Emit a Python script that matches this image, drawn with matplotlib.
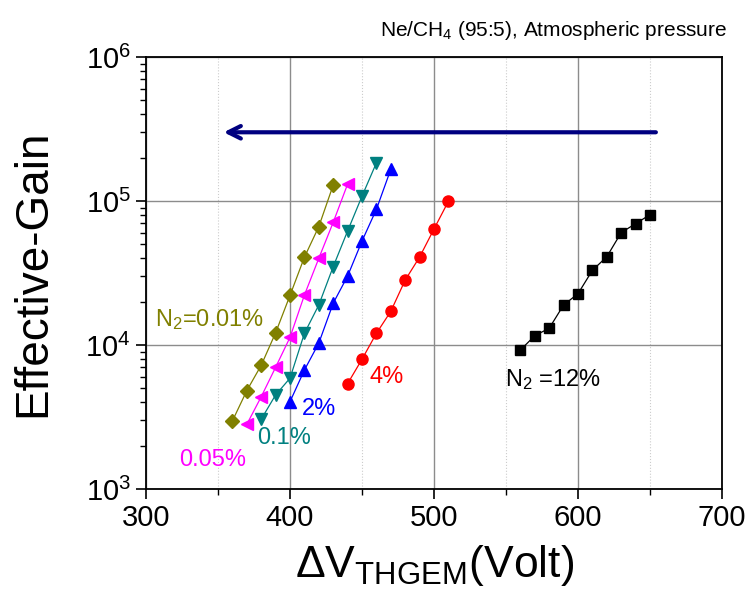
import matplotlib
matplotlib.use("Agg")
import matplotlib.pyplot as plt
from matplotlib.ticker import MultipleLocator, LogLocator, LogFormatterMathtext, NullFormatter

plt.rcParams['font.family'] = ['Liberation Sans', 'DejaVu Sans']
plt.rcParams['mathtext.fontset'] = 'custom'
plt.rcParams['mathtext.rm'] = 'Liberation Sans'
plt.rcParams['mathtext.it'] = 'Liberation Sans:italic'
plt.rcParams['mathtext.default'] = 'regular'

# N2 = 0.01 %
v_001 = [360, 370, 380, 390, 400, 410, 420, 430]
g_001 = [2970, 4820, 7230, 12150, 22100, 40700, 66400, 129000]
# N2 = 0.05 %
v_005 = [370, 380, 390, 400, 410, 420, 430, 440]
g_005 = [2810, 4370, 7000, 11300, 22200, 40000, 71100, 131000]
# N2 = 0.1 %
v_01 = [380, 390, 400, 410, 420, 430, 440, 450, 460]
g_01 = [3050, 4500, 5880, 12050, 18960, 35000, 61900, 108000, 184000]
# N2 = 2 %
v_2 = [400, 410, 420, 430, 440, 450, 460, 470]
g_2 = [4040, 6700, 10300, 19500, 30100, 52700, 87500, 166000]
# N2 = 4 %
v_4 = [440, 450, 460, 470, 480, 490, 500, 510]
g_4 = [5390, 7960, 12050, 17130, 28250, 40800, 63900, 99500]
# N2 = 12 %
v_12 = [560, 570, 580, 590, 600, 610, 620, 630, 640, 650]
g_12 = [9230, 11600, 13070, 18960, 22700, 33000, 41000, 60300, 69600, 80300]

fig = plt.figure(figsize=(7.55, 6.16), dpi=100)
ax = fig.add_axes([0.1934, 0.2062, 0.7629, 0.7013])

ax.plot(v_001, g_001, '-D', color='#808000', lw=0.9, ms=7, zorder=3)
ax.plot(v_005, g_005, '-<', color='#FF00FF', lw=0.9, ms=8.5, zorder=3)
ax.plot(v_01, g_01, '-v', color='#008080', lw=0.9, ms=8.5, zorder=3)
ax.plot(v_2, g_2, '-^', color='#0000FF', lw=0.9, ms=8.5, zorder=3)
ax.plot(v_4, g_4, '-o', color='#FF0000', lw=0.9, ms=8, zorder=3)
ax.plot(v_12, g_12, '-s', color='black', lw=0.9, ms=6.5, zorder=3)

ax.set_yscale('log')
ax.set_xlim(300, 700)
ax.set_ylim(1e3, 1e6)

ax.xaxis.set_major_locator(MultipleLocator(100))
ax.xaxis.set_minor_locator(MultipleLocator(50))
ax.yaxis.set_major_locator(LogLocator(base=10))
ax.yaxis.set_major_formatter(LogFormatterMathtext())
ax.yaxis.set_minor_locator(LogLocator(base=10, subs=range(2, 10)))
ax.yaxis.set_minor_formatter(NullFormatter())

ax.grid(True, which='major', color='#8c8c8c', lw=1.0, ls='-')
ax.grid(True, which='minor', axis='x', color='#cccccc', lw=0.8, ls=':')
ax.set_axisbelow(True)

ax.tick_params(which='major', direction='out', length=7, width=1.2, labelsize=21, pad=4)
ax.tick_params(which='minor', direction='out', length=4, width=1.0)
for s in ax.spines.values():
    s.set_linewidth(1.3)

ax.set_ylabel('Effective-Gain', fontsize=33, labelpad=22)
ax.set_xlabel('ΔV$_{THGEM}$(Volt)', fontsize=32, labelpad=8)

ax.annotate('', xy=(352, 3e5), xytext=(656, 3e5),
            arrowprops=dict(arrowstyle='->,head_length=0.9,head_width=0.45',
                            color='#000080', lw=3))

ax.text(306, 14900, 'N$_2$=0.01%', color='#808000', fontsize=17, va='center', ha='left')
ax.text(323, 1590, '0.05%', color='#FF00FF', fontsize=17, va='center', ha='left')
ax.text(377, 2260, '0.1%', color='#008080', fontsize=17, va='center', ha='left')
ax.text(408, 3600, '2%', color='#0000FF', fontsize=17, va='center', ha='left')
ax.text(455, 6000, '4%', color='#FF0000', fontsize=17, va='center', ha='left')
ax.text(549, 5720, 'N$_2$ =12%', color='black', fontsize=17, va='center', ha='left')

fig.text(0.963, 0.951, 'Ne/CH$_4$ (95:5), Atmospheric pressure', fontsize=15,
         ha='right', va='center')

fig.savefig('out.png', dpi=100)
